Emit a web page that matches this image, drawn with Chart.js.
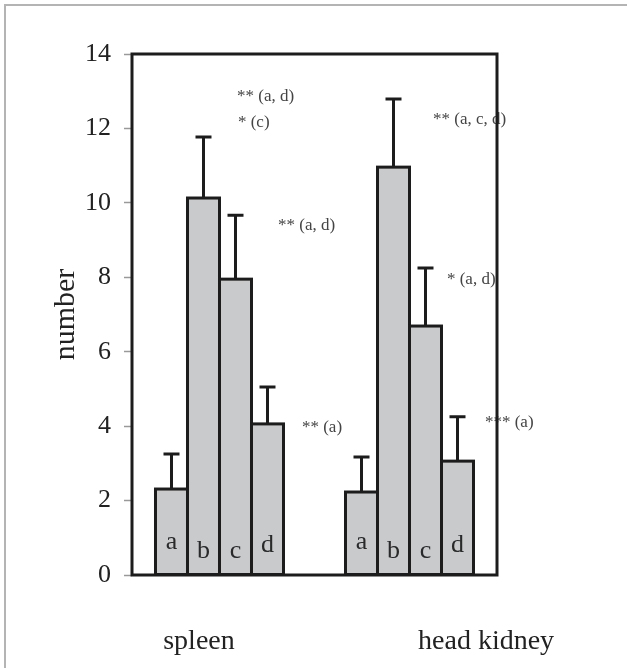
<!DOCTYPE html>
<html>
<head>
<meta charset="utf-8">
<script src="https://cdn.jsdelivr.net/npm/chart.js@4.4.1/dist/chart.umd.min.js"></script>
<style>
  html, body { margin: 0; padding: 0; background: #fff; overflow: hidden; }
  #wrap { position: relative; width: 627px; height: 668px; overflow: hidden; }
  #frame { position: absolute; left: 4px; top: 4px; width: 700px; height: 700px;
           border-top: 2px solid #b4b4b4; border-left: 2px solid #b4b4b4; }
  canvas { position: absolute; left: 0; top: 0; }
</style>
</head>
<body>
<div id="wrap">
  <div id="frame"></div>
  <canvas id="chart" width="627" height="668"></canvas>
</div>
<script>
// Dados
const groups = ['spleen', 'head kidney'];
const groupX = [0, 1];
const letters = ['a', 'b', 'c', 'd'];

const valuesA = [2.31, 2.23];
const valuesB = [10.13, 10.96];
const valuesC = [7.95, 6.69];
const valuesD = [4.06, 3.06];

const errA = [0.94, 0.94];
const errB = [1.64, 1.83];
const errC = [1.72, 1.56];
const errD = [0.99, 1.19];

const yTicks = [0, 2, 4, 6, 8, 10, 12, 14];

// Anotações de significância (texto e posição em unidades dos eixos)
const noteText = ['** (a, d)', '* (c)', '** (a, d)', '** (a)', '** (a, c, d)', '* (a, d)', '*** (a)'];
const noteX = [0.092, 0.097, 0.308, 0.434, 1.124, 1.197, 1.397];
const noteY = [12.85, 12.17, 9.38, 3.95, 12.23, 7.93, 4.11];

// Posição dos rótulos das categorias no eixo x
const groupLabelX = [-0.108, 1.403];
// Linha de base das letras dentro das barras
const letterBase = [0.70, 0.46, 0.46, 0.62];

const allValues = [valuesA, valuesB, valuesC, valuesD];
const allErrors = [errA, errB, errC, errD];

const serif = "'Liberation Serif', 'Times New Roman', serif";
const ink = '#1c1c1c';

const datasets = allValues.map((vals, i) => ({
  label: letters[i],
  data: vals.map((v, j) => ({ x: groupX[j], y: v })),
  backgroundColor: '#c9cacc',
  borderWidth: 0,
  barThickness: 32
}));

// Contornos das barras, barras de erro, letras, anotações e moldura
const extras = {
  id: 'extras',
  afterDatasetsDraw(chart) {
    const ctx = chart.ctx;
    const ys = chart.scales.y;
    const xs = chart.scales.x;
    ctx.save();
    ctx.strokeStyle = ink;
    ctx.lineWidth = 3;
    // contorno das barras (linha partilhada entre barras vizinhas)
    chart.data.datasets.forEach((ds, i) => {
      chart.getDatasetMeta(i).data.forEach((bar) => {
        const p = bar.getProps(['x', 'y', 'base', 'width'], true);
        ctx.strokeRect(p.x - p.width / 2, p.y, p.width, p.base - p.y);
      });
    });
    // barras de erro (só para cima)
    chart.data.datasets.forEach((ds, i) => {
      chart.getDatasetMeta(i).data.forEach((bar, j) => {
        const top = ys.getPixelForValue(allValues[i][j] + allErrors[i][j]);
        ctx.beginPath();
        ctx.moveTo(bar.x, bar.y);
        ctx.lineTo(bar.x, top);
        ctx.moveTo(bar.x - 8, top);
        ctx.lineTo(bar.x + 8, top);
        ctx.stroke();
      });
    });
    // letras dentro das barras
    ctx.fillStyle = '#2a2a2a';
    ctx.font = '26px ' + serif;
    ctx.textAlign = 'center';
    ctx.textBaseline = 'alphabetic';
    chart.data.datasets.forEach((ds, i) => {
      chart.getDatasetMeta(i).data.forEach((bar) => {
        ctx.fillText(letters[i], bar.x, ys.getPixelForValue(letterBase[i]));
      });
    });
    // anotações
    ctx.fillStyle = '#444';
    ctx.font = '17px ' + serif;
    ctx.textAlign = 'left';
    ctx.textBaseline = 'middle';
    noteText.forEach((t, k) => {
      ctx.fillText(t, xs.getPixelForValue(noteX[k]), ys.getPixelForValue(noteY[k]));
    });
    // moldura da área do gráfico
    const a = chart.chartArea;
    ctx.strokeRect(a.left, a.top, a.right - a.left, a.bottom - a.top);
    ctx.restore();
  }
};

const ctx = document.getElementById('chart').getContext('2d');
new Chart(ctx, {
  type: 'bar',
  data: { datasets: datasets },
  options: {
    responsive: false,
    animation: false,
    layout: { padding: { top: 54, right: 130, left: 0, bottom: 0 } },
    plugins: { legend: { display: false }, tooltip: { enabled: false } },
    scales: {
      x: {
        type: 'linear',
        min: -0.4605,
        max: 1.4605,
        offset: false,
        grid: { display: false, drawTicks: false },
        border: { display: false },
        afterBuildTicks: (scale) => { scale.ticks = groupLabelX.map(v => ({ value: v })); },
        afterFit: (scale) => { scale.height = 93; },
        ticks: {
          autoSkip: false,
          maxRotation: 0,
          padding: 50,
          color: '#222',
          font: { family: serif, size: 28 },
          callback: (v, i) => groups[i]
        }
      },
      y: {
        min: 0,
        max: 14,
        afterBuildTicks: (scale) => { scale.ticks = yTicks.map(v => ({ value: v })); },
        afterFit: (scale) => { scale.width = 132; },
        grid: { drawOnChartArea: false, drawTicks: true, tickLength: 8, tickColor: '#999', tickWidth: 1.5 },
        border: { display: false },
        ticks: {
          padding: 13,
          color: '#222',
          font: { family: serif, size: 26 }
        },
        title: {
          display: true,
          text: 'number',
          color: '#222',
          font: { family: serif, size: 30 },
          padding: { top: 48, bottom: 0 }
        }
      }
    }
  },
  plugins: [extras]
});
</script>
</body>
</html>
